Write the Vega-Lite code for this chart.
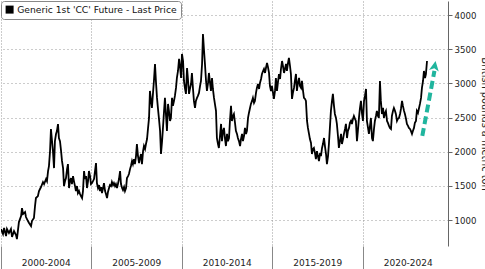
{
  "$schema": "https://vega.github.io/schema/vega-lite/v6.json",
  "width": 447,
  "height": 245,
  "padding": 0,
  "background": "white",
  "config": {"view": {"stroke": null}, "font": "DejaVu Sans"},
  "datasets": {
    "cc": [
      {"t":2000.00,"v":868},{"t":2000.11,"v":795},{"t":2000.17,"v":883},{"t":2000.28,"v":766},{"t":2000.33,"v":868},{"t":2000.44,"v":810},{"t":2000.55,"v":868},{"t":2000.61,"v":752},{"t":2000.72,"v":839},{"t":2000.83,"v":781},{"t":2000.88,"v":722},{"t":2000.99,"v":970},
      {"t":2001.11,"v":1058},{"t":2001.16,"v":1175},{"t":2001.22,"v":1088},{"t":2001.33,"v":1117},{"t":2001.38,"v":1044},{"t":2001.49,"v":985},{"t":2001.55,"v":956},{"t":2001.66,"v":912},{"t":2001.71,"v":985},{"t":2001.82,"v":1029},{"t":2001.88,"v":1205},{"t":2001.93,"v":1322},
      {"t":2002.04,"v":1351},{"t":2002.10,"v":1424},{"t":2002.21,"v":1483},{"t":2002.32,"v":1556},{"t":2002.38,"v":1526},{"t":2002.49,"v":1600},{"t":2002.54,"v":1570},{"t":2002.60,"v":1717},{"t":2002.65,"v":1790},{"t":2002.71,"v":2009},{"t":2002.76,"v":2330},{"t":2002.82,"v":2155},{"t":2002.87,"v":2009},{"t":2002.93,"v":1760},{"t":2002.98,"v":2155},
      {"t":2003.04,"v":2258},{"t":2003.09,"v":2302},{"t":2003.15,"v":2404},{"t":2003.20,"v":2200},{"t":2003.26,"v":2155},{"t":2003.32,"v":2009},{"t":2003.37,"v":1865},{"t":2003.43,"v":1760},{"t":2003.48,"v":1497},{"t":2003.54,"v":1570},{"t":2003.59,"v":1614},{"t":2003.65,"v":1745},{"t":2003.70,"v":1819},{"t":2003.76,"v":1468},{"t":2003.81,"v":1570},{"t":2003.87,"v":1614},{"t":2003.92,"v":1526},{"t":2003.98,"v":1643},
      {"t":2004.03,"v":1570},{"t":2004.09,"v":1497},{"t":2004.14,"v":1424},{"t":2004.20,"v":1497},{"t":2004.25,"v":1395},{"t":2004.31,"v":1424},{"t":2004.37,"v":1380},{"t":2004.42,"v":1351},{"t":2004.48,"v":1322},{"t":2004.53,"v":1424},{"t":2004.59,"v":1717},{"t":2004.64,"v":1600},{"t":2004.70,"v":1643},{"t":2004.75,"v":1468},{"t":2004.81,"v":1570},{"t":2004.86,"v":1717},{"t":2004.92,"v":1643},{"t":2004.97,"v":1526},
      {"t":2005.03,"v":1541},{"t":2005.14,"v":1600},{"t":2005.25,"v":1834},{"t":2005.30,"v":1541},{"t":2005.36,"v":1468},{"t":2005.42,"v":1512},{"t":2005.47,"v":1424},{"t":2005.53,"v":1483},{"t":2005.58,"v":1395},{"t":2005.64,"v":1468},{"t":2005.69,"v":1541},{"t":2005.75,"v":1424},{"t":2005.80,"v":1380},{"t":2005.86,"v":1322},{"t":2005.91,"v":1410},{"t":2005.97,"v":1468},
      {"t":2006.02,"v":1512},{"t":2006.08,"v":1497},{"t":2006.13,"v":1556},{"t":2006.19,"v":1512},{"t":2006.24,"v":1541},{"t":2006.30,"v":1497},{"t":2006.35,"v":1526},{"t":2006.41,"v":1468},{"t":2006.46,"v":1526},{"t":2006.52,"v":1600},{"t":2006.58,"v":1717},{"t":2006.63,"v":1526},{"t":2006.69,"v":1468},{"t":2006.74,"v":1439},{"t":2006.80,"v":1483},{"t":2006.85,"v":1424},{"t":2006.91,"v":1468},{"t":2006.96,"v":1614},
      {"t":2007.02,"v":1643},{"t":2007.07,"v":1673},{"t":2007.13,"v":1745},{"t":2007.18,"v":1790},{"t":2007.24,"v":1863},{"t":2007.29,"v":1819},{"t":2007.35,"v":1892},{"t":2007.40,"v":1819},{"t":2007.46,"v":1936},{"t":2007.51,"v":2112},{"t":2007.57,"v":1936},{"t":2007.63,"v":1834},{"t":2007.68,"v":1907},{"t":2007.74,"v":1966},{"t":2007.79,"v":1819},{"t":2007.85,"v":2009},{"t":2007.90,"v":2083},{"t":2007.96,"v":2039},
      {"t":2008.01,"v":2112},{"t":2008.07,"v":2185},{"t":2008.12,"v":2330},{"t":2008.18,"v":2494},{"t":2008.23,"v":2889},{"t":2008.29,"v":2743},{"t":2008.34,"v":2640},{"t":2008.40,"v":2860},{"t":2008.45,"v":3035},{"t":2008.51,"v":3284},{"t":2008.56,"v":3035},{"t":2008.62,"v":2787},{"t":2008.67,"v":2640},{"t":2008.73,"v":2480},{"t":2008.79,"v":2304},{"t":2008.84,"v":1966},{"t":2008.90,"v":2155},{"t":2008.95,"v":2348},
      {"t":2009.01,"v":2597},{"t":2009.06,"v":2787},{"t":2009.12,"v":2523},{"t":2009.17,"v":2304},{"t":2009.23,"v":2699},{"t":2009.28,"v":2597},{"t":2009.34,"v":2450},{"t":2009.39,"v":2494},{"t":2009.45,"v":2787},{"t":2009.50,"v":2670},{"t":2009.56,"v":2743},{"t":2009.61,"v":2816},{"t":2009.67,"v":2933},{"t":2009.72,"v":3079},{"t":2009.78,"v":3181},{"t":2009.84,"v":3357},{"t":2009.89,"v":3254},{"t":2009.95,"v":3079},
      {"t":2010.00,"v":3430},{"t":2010.06,"v":3327},{"t":2010.11,"v":3035},{"t":2010.17,"v":2918},{"t":2010.22,"v":2845},{"t":2010.28,"v":3225},{"t":2010.33,"v":3064},{"t":2010.39,"v":2845},{"t":2010.44,"v":2918},{"t":2010.50,"v":2991},{"t":2010.55,"v":3152},{"t":2010.61,"v":2918},{"t":2010.66,"v":2743},{"t":2010.72,"v":2640},{"t":2010.77,"v":2743},{"t":2010.83,"v":2787},{"t":2010.88,"v":2816},{"t":2010.94,"v":2860},
      {"t":2011.00,"v":2962},{"t":2011.05,"v":3035},{"t":2011.11,"v":3284},{"t":2011.16,"v":3722},{"t":2011.22,"v":3474},{"t":2011.27,"v":3284},{"t":2011.33,"v":3035},{"t":2011.38,"v":2889},{"t":2011.44,"v":3006},{"t":2011.49,"v":3152},{"t":2011.55,"v":3006},{"t":2011.60,"v":2889},{"t":2011.66,"v":3079},{"t":2011.71,"v":2918},{"t":2011.77,"v":2787},{"t":2011.82,"v":2699},{"t":2011.88,"v":2597},{"t":2011.93,"v":2200},{"t":2011.99,"v":2112},
      {"t":2012.04,"v":2055},{"t":2012.10,"v":2230},{"t":2012.16,"v":2406},{"t":2012.21,"v":2155},{"t":2012.27,"v":2304},{"t":2012.32,"v":2348},{"t":2012.38,"v":2185},{"t":2012.43,"v":2083},{"t":2012.49,"v":2260},{"t":2012.54,"v":2155},{"t":2012.60,"v":2200},{"t":2012.65,"v":2450},{"t":2012.71,"v":2670},{"t":2012.76,"v":2450},{"t":2012.82,"v":2523},{"t":2012.87,"v":2552},{"t":2012.93,"v":2421},{"t":2012.98,"v":2304},
      {"t":2013.04,"v":2260},{"t":2013.09,"v":2200},{"t":2013.15,"v":2155},{"t":2013.21,"v":2083},{"t":2013.26,"v":2185},{"t":2013.32,"v":2260},{"t":2013.37,"v":2155},{"t":2013.43,"v":2230},{"t":2013.48,"v":2348},{"t":2013.54,"v":2260},{"t":2013.59,"v":2304},{"t":2013.65,"v":2494},{"t":2013.70,"v":2567},{"t":2013.76,"v":2640},{"t":2013.81,"v":2699},{"t":2013.87,"v":2743},{"t":2013.92,"v":2787},{"t":2013.98,"v":2714},
      {"t":2014.03,"v":2743},{"t":2014.09,"v":2860},{"t":2014.14,"v":2933},{"t":2014.20,"v":2991},{"t":2014.26,"v":2918},{"t":2014.31,"v":3006},{"t":2014.37,"v":3064},{"t":2014.42,"v":3137},{"t":2014.48,"v":3181},{"t":2014.53,"v":3210},{"t":2014.59,"v":3152},{"t":2014.64,"v":3225},{"t":2014.70,"v":3298},{"t":2014.75,"v":3240},{"t":2014.81,"v":3152},{"t":2014.86,"v":2962},{"t":2014.92,"v":2889},{"t":2014.97,"v":2962},
      {"t":2015.03,"v":2860},{"t":2015.08,"v":2772},{"t":2015.14,"v":2889},{"t":2015.19,"v":3079},{"t":2015.25,"v":2889},{"t":2015.30,"v":3006},{"t":2015.36,"v":3137},{"t":2015.42,"v":3064},{"t":2015.47,"v":3210},{"t":2015.53,"v":3327},{"t":2015.58,"v":3254},{"t":2015.64,"v":3152},{"t":2015.69,"v":3210},{"t":2015.75,"v":3284},{"t":2015.80,"v":3181},{"t":2015.86,"v":3298},{"t":2015.91,"v":3371},{"t":2015.97,"v":3254},
      {"t":2016.02,"v":3137},{"t":2016.08,"v":2772},{"t":2016.13,"v":2860},{"t":2016.19,"v":2933},{"t":2016.24,"v":3035},{"t":2016.30,"v":3137},{"t":2016.35,"v":2889},{"t":2016.41,"v":3006},{"t":2016.47,"v":3079},{"t":2016.52,"v":2962},{"t":2016.58,"v":2933},{"t":2016.63,"v":3035},{"t":2016.69,"v":2889},{"t":2016.74,"v":2787},{"t":2016.80,"v":2772},{"t":2016.85,"v":2743},{"t":2016.91,"v":2450},{"t":2016.96,"v":2348},
      {"t":2017.02,"v":2260},{"t":2017.07,"v":2185},{"t":2017.13,"v":2128},{"t":2017.18,"v":1966},{"t":2017.24,"v":2039},{"t":2017.29,"v":2055},{"t":2017.35,"v":1980},{"t":2017.40,"v":1892},{"t":2017.46,"v":2009},{"t":2017.51,"v":1936},{"t":2017.57,"v":1863},{"t":2017.63,"v":1980},{"t":2017.68,"v":1936},{"t":2017.74,"v":2055},{"t":2017.79,"v":2112},{"t":2017.85,"v":2200},{"t":2017.90,"v":2083},{"t":2017.96,"v":1966},
      {"t":2018.01,"v":1819},{"t":2018.07,"v":1936},{"t":2018.12,"v":2112},{"t":2018.18,"v":2377},{"t":2018.23,"v":2597},{"t":2018.29,"v":2743},{"t":2018.34,"v":2845},{"t":2018.40,"v":2670},{"t":2018.45,"v":2552},{"t":2018.51,"v":2494},{"t":2018.56,"v":2406},{"t":2018.62,"v":2230},{"t":2018.67,"v":2055},{"t":2018.73,"v":2155},{"t":2018.79,"v":2260},{"t":2018.84,"v":2112},{"t":2018.90,"v":2185},{"t":2018.95,"v":2260},
      {"t":2019.01,"v":2333},{"t":2019.06,"v":2406},{"t":2019.12,"v":2200},{"t":2019.17,"v":2304},{"t":2019.23,"v":2348},{"t":2019.28,"v":2421},{"t":2019.34,"v":2450},{"t":2019.39,"v":2406},{"t":2019.45,"v":2480},{"t":2019.50,"v":2523},{"t":2019.56,"v":2480},{"t":2019.61,"v":2450},{"t":2019.67,"v":2155},{"t":2019.72,"v":2304},{"t":2019.78,"v":2494},{"t":2019.83,"v":2626},{"t":2019.89,"v":2743},{"t":2019.95,"v":2552},
      {"t":2020.00,"v":2450},{"t":2020.06,"v":2743},{"t":2020.11,"v":2816},{"t":2020.17,"v":2918},{"t":2020.22,"v":2450},{"t":2020.28,"v":2348},{"t":2020.33,"v":2260},{"t":2020.39,"v":2377},{"t":2020.44,"v":2494},{"t":2020.50,"v":2200},{"t":2020.55,"v":2155},{"t":2020.61,"v":2333},{"t":2020.66,"v":2450},{"t":2020.72,"v":2523},{"t":2020.77,"v":2597},{"t":2020.83,"v":2523},{"t":2020.88,"v":2494},{"t":2020.94,"v":3035},{"t":2020.99,"v":2743},
      {"t":2021.05,"v":2552},{"t":2021.11,"v":2640},{"t":2021.16,"v":2494},{"t":2021.22,"v":2567},{"t":2021.27,"v":2597},{"t":2021.33,"v":2450},{"t":2021.38,"v":2421},{"t":2021.44,"v":2377},{"t":2021.49,"v":2348},{"t":2021.55,"v":2333},{"t":2021.60,"v":2523},{"t":2021.66,"v":2597},{"t":2021.71,"v":2640},{"t":2021.77,"v":2597},{"t":2021.82,"v":2552},{"t":2021.88,"v":2450},{"t":2021.93,"v":2480},{"t":2021.99,"v":2494},
      {"t":2022.05,"v":2552},{"t":2022.10,"v":2626},{"t":2022.16,"v":2743},{"t":2022.21,"v":2670},{"t":2022.27,"v":2597},{"t":2022.32,"v":2552},{"t":2022.38,"v":2480},{"t":2022.43,"v":2406},{"t":2022.49,"v":2377},{"t":2022.54,"v":2348},{"t":2022.60,"v":2333},{"t":2022.65,"v":2304},{"t":2022.71,"v":2260},{"t":2022.76,"v":2304},{"t":2022.82,"v":2348},{"t":2022.87,"v":2421},{"t":2022.93,"v":2450},{"t":2022.98,"v":2597},
      {"t":2023.04,"v":2567},{"t":2023.10,"v":2640},{"t":2023.15,"v":2699},{"t":2023.21,"v":2787},{"t":2023.26,"v":2933},{"t":2023.32,"v":3035},{"t":2023.37,"v":3181},{"t":2023.43,"v":3079},{"t":2023.48,"v":3137},{"t":2023.54,"v":3327}
    ],
    "arrow": [
      {"t1":2023.28,"v1":2230,"t2":2023.95,"v2":3181,"th":2023.96,"vh":3248}
    ],
    "periods": [
      {"p":"2000-2004"},{"p":"2005-2009"},{"p":"2010-2014"},{"p":"2015-2019"},{"p":"2020-2024"}
    ]
  },
  "resolve": {"scale": {"x": "independent"}},
  "layer": [
    {
      "layer": [
        {
          "data": {"name": "cc"},
          "mark": {"type": "line", "strokeWidth": 1.8, "clip": true},
          "encoding": {
            "x": {
              "field": "t", "type": "quantitative",
              "scale": {"domain": [2000, 2024.7], "nice": false, "zero": false},
              "axis": {
                "orient": "bottom",
                "title": null,
                "values": [2000, 2005, 2010, 2015, 2020],
                "labels": false,
                "tickSize": 24,
                "tickColor": "#888",
                "grid": true,
                "gridDash": [1, 2],
                "gridColor": "#999",
                "domainColor": "#666"
              }
            },
            "y": {
              "field": "v", "type": "quantitative",
              "scale": {"domain": [620, 4205], "nice": false, "zero": false},
              "axis": {
                "orient": "right",
                "title": "British pounds a metric ton",
                "titleFontSize": 9.8,
                "titleFontWeight": "normal",
                "titleColor": "#222",
                "titlePadding": 4,
                "values": [1000, 1500, 2000, 2500, 3000, 3500, 4000],
                "format": "d",
                "tickSize": 4,
                "tickColor": "#666",
                "grid": true,
                "gridDash": [1, 3],
                "gridColor": "#999",
                "domainColor": "#666",
                "labelFontSize": 8.6,
                "labelColor": "#222",
                "labelPadding": 2
              }
            },
            "color": {
              "datum": "Generic 1st 'CC' Future - Last Price",
              "scale": {"range": ["black"]},
              "legend": {
                "orient": "top-left",
                "offset": 0,
                "title": null,
                "strokeColor": "#888",
                "cornerRadius": 3,
                "padding": 4,
                "fillColor": "white",
                "symbolType": "square",
                "symbolSize": 64,
                "labelFontSize": 9.2,
                "labelColor": "#111",
                "labelLimit": 400,
                "labelOffset": 3,
                "encode": {
                  "symbols": {"update": {"fill": {"value": "black"}, "stroke": {"value": "black"}, "strokeWidth": {"value": 0}, "shape": {"value": "square"}}}
                }
              }
            }
          }
        },
        {
          "data": {"name": "arrow"},
          "mark": {"type": "rule", "color": "#20b59e", "strokeWidth": 4, "strokeDash": [8, 4]},
          "encoding": {
            "x": {
              "field": "t1", "type": "quantitative",
              "scale": {"domain": [2000, 2024.7], "nice": false, "zero": false},
              "axis": {"orient": "bottom", "title": null, "values": [2001,2002,2003,2004,2006,2007,2008,2009,2011,2012,2013,2014,2016,2017,2018,2019,2021,2022,2023,2024], "labels": false, "tickSize": 3, "tickColor": "#888", "grid": false, "domain": false}
            },
            "x2": {"field": "t2"},
            "y": {
              "field": "v1", "type": "quantitative",
              "axis": {
                "orient": "right",
                "title": "British pounds a metric ton",
                "titleFontSize": 9.8,
                "titleFontWeight": "normal",
                "titleColor": "#222",
                "titlePadding": 4,
                "values": [1000, 1500, 2000, 2500, 3000, 3500, 4000],
                "format": "d",
                "tickSize": 4,
                "tickColor": "#666",
                "grid": true,
                "gridDash": [1, 3],
                "gridColor": "#999",
                "domainColor": "#666",
                "labelFontSize": 8.6,
                "labelColor": "#222",
                "labelPadding": 2
              }
            },
            "y2": {"field": "v2"}
          }
        },
        {
          "data": {"name": "arrow"},
          "mark": {"type": "point", "shape": "M0,-1L0.9,0.8L0,0.35L-0.9,0.8Z", "filled": true, "color": "#20b59e", "size": 121, "angle": 10, "opacity": 1},
          "encoding": {
            "x": {
              "field": "th", "type": "quantitative",
              "axis": {"orient": "bottom", "title": null, "values": [2001,2002,2003,2004,2006,2007,2008,2009,2011,2012,2013,2014,2016,2017,2018,2019,2021,2022,2023,2024], "labels": false, "tickSize": 3, "tickColor": "#888", "grid": false, "domain": false}
            },
            "y": {
              "field": "vh", "type": "quantitative",
              "axis": {
                "orient": "right",
                "title": "British pounds a metric ton",
                "titleFontSize": 9.8,
                "titleFontWeight": "normal",
                "titleColor": "#222",
                "titlePadding": 4,
                "values": [1000, 1500, 2000, 2500, 3000, 3500, 4000],
                "format": "d",
                "tickSize": 4,
                "tickColor": "#666",
                "grid": true,
                "gridDash": [1, 3],
                "gridColor": "#999",
                "domainColor": "#666",
                "labelFontSize": 8.6,
                "labelColor": "#222",
                "labelPadding": 2
              }
            }
          }
        }
      ]
    },
    {
      "data": {"name": "periods"},
      "mark": {"type": "rule", "opacity": 0},
      "encoding": {
        "x": {
          "field": "p", "type": "nominal",
          "scale": {"type": "band", "range": [0, 452.5], "paddingInner": 0, "paddingOuter": 0},
          "axis": {"orient": "bottom", "title": null, "ticks": false, "tickSize": 0, "domain": false, "grid": false, "labelAngle": 0, "labelFontSize": 9, "labelColor": "#222", "labelPadding": 12}
        }
      }
    }
  ]
}
